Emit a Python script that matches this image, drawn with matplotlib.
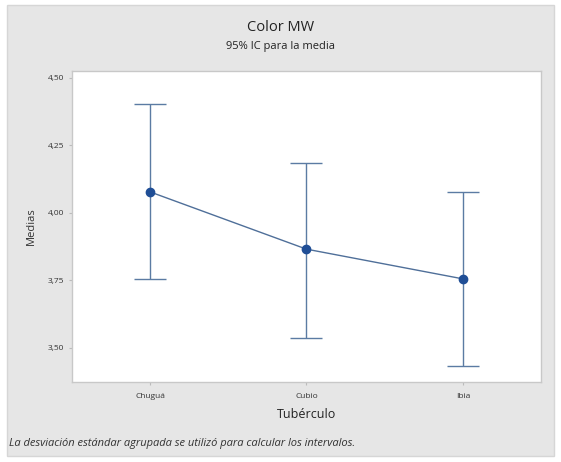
import matplotlib.pyplot as plt
from matplotlib.patches import Rectangle
from matplotlib.ticker import FuncFormatter

# Data
categories = ["Chuguá", "Cubio", "Ibia"]
means = [4.078, 3.866, 3.756]
lower = [3.756, 3.537, 3.433]
upper = [4.404, 4.185, 4.078]
yticks = [3.50, 3.75, 4.00, 4.25, 4.50]

plt.rcParams['font.family'] = ['Open Sans', 'DejaVu Sans']

fig = plt.figure(figsize=(5.61, 4.62), dpi=100)
fig.patch.set_facecolor('white')
# gray panel behind everything
fig.patches.append(Rectangle((0.012, 0.012), 0.976, 0.978, transform=fig.transFigure,
                             facecolor='#e6e6e6', edgecolor='#d6d6d6', lw=1.0, zorder=-5))

ax = fig.add_axes([0.1283, 0.1732, 0.836, 0.6732])
ax.set_zorder(2)
ax.set_facecolor('white')

x = list(range(len(categories)))
err_lo = [m - l for m, l in zip(means, lower)]
err_hi = [u - m for m, u in zip(means, upper)]

ax.errorbar(x, means, yerr=[err_lo, err_hi], fmt='none', ecolor='#5b7ba3',
            elinewidth=1.0, capsize=11.5, capthick=1.0, zorder=2)
ax.plot(x, means, color='#4f6f99', lw=1.0, zorder=3)
ax.plot(x, means, 'o', color='#1f4e96', markersize=6, zorder=4)

ax.set_xlim(-0.5, 2.5)
ax.set_ylim(3.374, 4.526)
ax.set_xticks(x)
ax.set_xticklabels(categories, fontsize=6, color='#333333')
ax.set_yticks(yticks)
ax.yaxis.set_major_formatter(FuncFormatter(lambda v, p: f"{v:.2f}".replace('.', ',')))
ax.tick_params(axis='y', labelsize=6, colors='#333333', length=2, color='#bbbbbb')
ax.tick_params(axis='x', length=2, color='#bbbbbb', pad=6)

for s in ax.spines.values():
    s.set_color('#c8c8c8')
    s.set_linewidth(1.0)

ax.set_ylabel("Medias", fontsize=8, color='#333333', labelpad=8)
ax.set_xlabel("Tubérculo", fontsize=9, color='#222222', labelpad=6)

fig.text(0.5, 0.940, "Color MW", ha='center', va='center', fontsize=10.5, color='#222222')
fig.text(0.5, 0.900, "95% IC para la media", ha='center', va='center', fontsize=8, color='#222222')
fig.text(0.016, 0.040, "La desviación estándar agrupada se utilizó para calcular los intervalos.",
         ha='left', va='center', fontsize=8, style='italic', color='#333333')

fig.savefig("out.png", dpi=100)
